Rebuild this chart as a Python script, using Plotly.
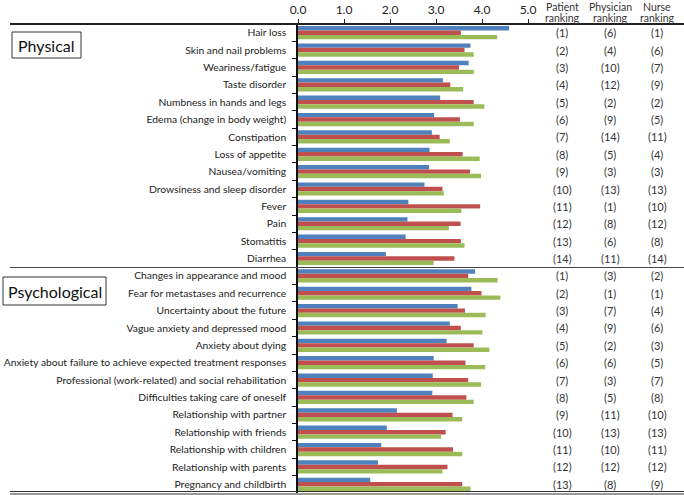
import plotly.graph_objects as go

categories = ["Hair loss", "Skin and nail problems", "Weariness/fatigue", "Taste disorder",
              "Numbness in hands and legs", "Edema (change in body weight)", "Constipation",
              "Loss of appetite", "Nausea/vomiting", "Drowsiness and sleep disorder", "Fever",
              "Pain", "Stomatitis", "Diarrhea",
              "Changes in appearance and mood", "Fear for metastases and recurrence",
              "Uncertainty about the future", "Vague anxiety and depressed mood",
              "Anxiety about dying", "Anxiety about failure to achieve expected treatment responses",
              "Professional (work-related) and social rehabilitation",
              "Difficulties taking care of oneself", "Relationship with partner",
              "Relationship with friends", "Relationship with children",
              "Relationship with parents", "Pregnancy and childbirth"]

patient = [4.59, 3.75, 3.71, 3.15, 3.09, 2.96, 2.91, 2.86, 2.85, 2.75, 2.40, 2.38, 2.34, 1.91,
           3.85, 3.77, 3.47, 3.30, 3.23, 2.95, 2.93, 2.92, 2.15, 1.93, 1.81, 1.74, 1.57]
physician = [3.54, 3.62, 3.50, 3.31, 3.82, 3.52, 3.08, 3.58, 3.74, 3.14, 3.96, 3.535, 3.54, 3.40,
             3.70, 3.99, 3.63, 3.54, 3.82, 3.64, 3.70, 3.66, 3.36, 3.21, 3.37, 3.25, 3.57]
nurse = [4.33, 3.82, 3.82, 3.59, 4.05, 3.82, 3.30, 3.95, 3.98, 3.17, 3.55, 3.28, 3.62, 2.95,
         4.34, 4.40, 4.08, 4.01, 4.16, 4.07, 3.98, 3.82, 3.57, 3.11, 3.57, 3.14, 3.75]

patient_rank = [1, 2, 3, 4, 5, 6, 7, 8, 9, 10, 11, 12, 13, 14,
                1, 2, 3, 4, 5, 6, 7, 8, 9, 10, 11, 12, 13]
physician_rank = [6, 4, 10, 12, 2, 9, 14, 5, 3, 13, 1, 8, 6, 11,
                  3, 1, 7, 9, 2, 6, 3, 5, 11, 13, 10, 12, 8]
nurse_rank = [1, 6, 7, 9, 2, 5, 11, 4, 3, 13, 10, 12, 8, 14,
              2, 1, 4, 6, 3, 5, 7, 8, 10, 13, 11, 12, 9]

x_ticks = [0, 1, 2, 3, 4, 5]
x_ticklabels = ["0.0", "1.0", "2.0", "3.0", "4.0", "5.0"]
rank_headers = [("Patient", "ranking"), ("Physician", "ranking"), ("Nurse", "ranking")]
groups = ["Physical", "Psychological"]

W, H = 684, 495
L, R, T, B = 298, 156, 24, 2
PW, PH = W - L - R, H - T - B
FONT = "Lato, Open Sans, sans-serif"


def px2x(px):
    return (px - L) / PW


def py2y(py):
    return (H - B - py) / PH


fig = go.Figure()
for name, vals, col in [("Patient", patient, "#4F81BD"),
                        ("Physician", physician, "#C0504D"),
                        ("Nurse", nurse, "#9BBB59")]:
    fig.add_trace(go.Bar(y=categories, x=vals, orientation="h", name=name,
                         marker=dict(color=col, line=dict(width=0)), hoverinfo="skip"))

annotations = []
rank_x = [562, 610, 657]
for hx, (h1, h2) in zip(rank_x, rank_headers):
    for txt, cy in [(h1, 7), (h2, 17.5)]:
        annotations.append(dict(x=px2x(hx), y=py2y(cy), xref="paper", yref="paper",
                                text=txt, showarrow=False, xanchor="center", yanchor="middle",
                                font=dict(family=FONT, size=10.5, color="#333")))
for ranks, hx in zip([patient_rank, physician_rank, nurse_rank], rank_x):
    for cat, r in zip(categories, ranks):
        annotations.append(dict(x=px2x(hx), y=cat, xref="paper", yref="y",
                                text=f"({r})", showarrow=False, xanchor="center",
                                yanchor="middle",
                                font=dict(family=FONT, size=11, color="#333")))

# group labels with boxes
boxes = [(12, 32, 81, 58), (3, 277, 106, 305)]
for (x0, y0, x1, y1), g in zip(boxes, groups):
    annotations.append(dict(x=px2x((x0 + x1) / 2), y=py2y((y0 + y1) / 2), xref="paper",
                            yref="paper", text=g, showarrow=False, xanchor="center",
                            yanchor="middle", font=dict(family=FONT, size=16, color="#111")))

shapes = []
for (x0, y0, x1, y1) in boxes:
    shapes.append(dict(type="rect", xref="paper", yref="paper",
                       x0=px2x(x0), x1=px2x(x1), y0=py2y(y0), y1=py2y(y1),
                       line=dict(color="#333", width=1), fillcolor="white", layer="below"))
# horizontal rules
shapes.append(dict(type="line", xref="paper", yref="paper", x0=px2x(10), x1=px2x(684),
                   y0=py2y(24), y1=py2y(24), line=dict(color="#222", width=2)))
shapes.append(dict(type="line", xref="paper", yref="paper", x0=px2x(10), x1=px2x(684),
                   y0=py2y(267.5), y1=py2y(267.5), line=dict(color="#444", width=1)))
shapes.append(dict(type="line", xref="paper", yref="paper", x0=px2x(10), x1=px2x(684),
                   y0=py2y(491.5), y1=py2y(491.5), line=dict(color="#333", width=1)))
shapes.append(dict(type="line", xref="paper", yref="paper", x0=px2x(10), x1=px2x(684),
                   y0=py2y(494), y1=py2y(494), line=dict(color="#333", width=1)))

fig.update_layout(
    width=W, height=H,
    margin=dict(l=L, r=R, t=T, b=B, pad=0, autoexpand=False),
    paper_bgcolor="white", plot_bgcolor="white",
    barmode="group", bargap=0.24, bargroupgap=0,
    showlegend=False,
    font=dict(family=FONT, size=11, color="#222"),
    annotations=annotations, shapes=shapes,
    xaxis=dict(range=[0, 5], side="top", tickvals=x_ticks, ticktext=x_ticklabels,
               ticks="outside", ticklen=4, tickcolor="#222", showgrid=False,
               zeroline=False, showline=False, automargin=False, fixedrange=True,
               tickfont=dict(size=12, family=FONT, color="#222")),
    yaxis=dict(categoryorder="array", categoryarray=categories, autorange="reversed",
               showline=True, linecolor="#111", linewidth=1.5, ticks="outside",
               tickson="boundaries", ticklen=4, tickcolor="#111", showgrid=False,
               ticklabelstandoff=8, automargin=False, fixedrange=True,
               tickfont=dict(size=10.3, family=FONT, color="#222")),
)

fig.write_html("out.html", config={"displayModeBar": False},
               post_script="document.body.style.margin='0';")
